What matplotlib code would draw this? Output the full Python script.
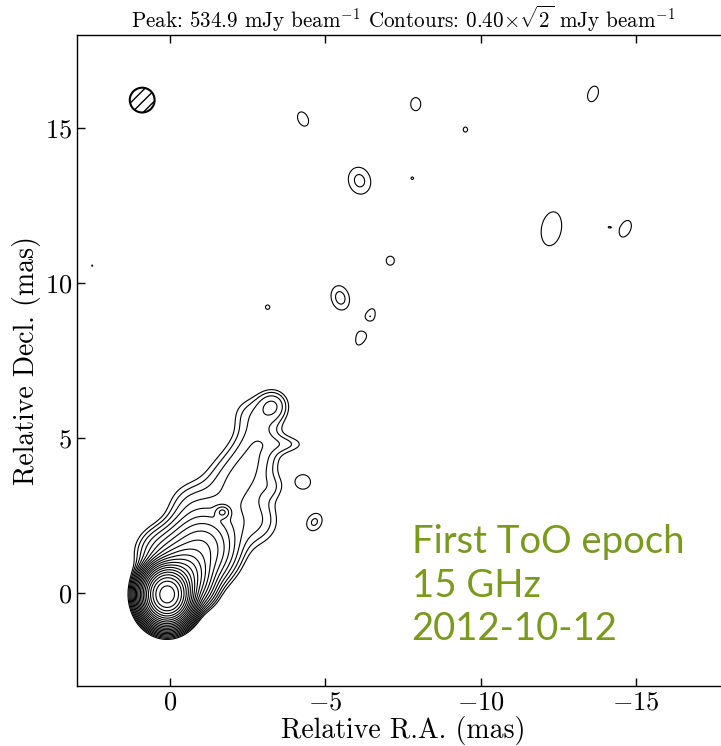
import numpy as np
import matplotlib
matplotlib.use("Agg")
import matplotlib.pyplot as plt
from matplotlib.patches import Ellipse

plt.rcParams['font.family'] = 'serif'
plt.rcParams['font.serif'] = ['cmr10']
plt.rcParams['mathtext.fontset'] = 'cm'
plt.rcParams['axes.formatter.use_mathtext'] = True
plt.rcParams['hatch.linewidth'] = 1.0

peak_flux = 534.9
lowest = 0.40
n_levels = 21

# gaussian components: ra, dec (mas), peak (mJy/beam), fwhm major, fwhm minor (mas), PA (deg)
core = [(0.1, -0.05, 522.0, 0.90, 0.78, 0)]
jet_ra = [-0.4, -0.9, -1.3, -1.69, -2.15, -0.6, -2.8, -3.3, -2.5, -3.8, -2.8, 0.3, -0.9, -3.3]
jet_dec = [0.55, 1.3, 1.9, 2.61, 3.6, 2.9, 4.9, 6.05, 5.8, 4.8, 2.3, 1.3, 0.0, 3.4]
jet_peak = [25.0, 6.0, 1.5, 2.0, 1.15, 0.5, 0.8, 1.0, 0.4, 0.45, 0.7, 1.5, 1.5, 0.3]
jet_maj = [1.0, 1.4, 1.6, 0.35, 2.0, 1.2, 1.8, 0.8, 1.0, 1.2, 1.3, 1.2, 0.8, 0.7]
jet_min = [1.0, 1.4, 1.6, 0.3, 1.5, 1.2, 1.2, 0.8, 1.0, 0.5, 1.3, 1.2, 0.8, 0.7]
jet_pa = [0, 0, 0, 90, -45, 0, -20, 0, 0, 90, 0, 0, 0, 0]

blob_ra = [-4.28, -6.10, -5.48, -6.45, -6.16, -6.30, -7.91, -9.51, -7.80, -13.62, -12.28,
           -14.13, -14.66, -7.09, 2.51, -3.14, -4.30, -4.65]
blob_dec = [15.29, 13.30, 9.52, 8.95, 8.28, 8.62, 15.77, 14.95, 13.38, 16.10, 11.75,
            11.80, 11.75, 10.72, 10.56, 9.22, 3.58, 2.29]
blob_peak = [0.45, 0.62, 0.64, 0.45, 0.50, -0.6, 0.45, 0.41, 0.403, 0.45, 0.50,
             0.35, 0.50, 0.45, 0.401, 0.41, 0.50, 0.60]
blob_maj = [1.17, 1.10, 0.97, 0.79, 1.02, 0.7, 1.02, 0.85, 0.78, 1.26, 1.94,
            0.3, 1.0, 0.70, 0.8, 0.74, 0.75, 0.76]
blob_min = [0.78, 0.89, 0.70, 0.41, 0.51, 0.3, 0.78, 0.74, 0.78, 0.78, 1.13,
            0.15, 0.6, 0.63, 0.5, 0.74, 0.75, 0.59]
blob_pa = [25, 15, 15, -23, -23, 67, 0, 0, 0, -20, -10, 90, -25, 0, 0, 0, 0, -30]

beam_ra, beam_dec, beam_size = 0.90, 15.90, 0.80


def gauss(X, Y, x0, y0, p, fmaj, fmin, pa):
    s1 = fmaj / 2.3548
    s2 = fmin / 2.3548
    t = np.deg2rad(pa)
    dx = X - x0
    dy = Y - y0
    u = dx * np.sin(t) + dy * np.cos(t)
    v = dx * np.cos(t) - dy * np.sin(t)
    return p * np.exp(-0.5 * ((u / s1) ** 2 + (v / s2) ** 2))


x = np.linspace(3, -18, 1051)
y = np.linspace(-3, 18, 1051)
X, Y = np.meshgrid(x, y)
img = np.zeros_like(X)
comps = list(core)
comps += list(zip(jet_ra, jet_dec, jet_peak, jet_maj, jet_min, jet_pa))
comps += list(zip(blob_ra, blob_dec, blob_peak, blob_maj, blob_min, blob_pa))
for c in comps:
    img += gauss(X, Y, *c)

levels = lowest * np.sqrt(2) ** np.arange(n_levels)

fig = plt.figure(figsize=(7.21, 7.46), dpi=100)
ax = fig.add_axes([77 / 721, 60 / 746, 652 / 721, 651 / 746])
ax.contour(X, Y, img, levels=levels, colors='k', linewidths=0.8)

beam = Ellipse((beam_ra, beam_dec), beam_size, beam_size, fill=False,
               hatch='///', ec='k', lw=1.5)
ax.add_patch(beam)

ax.set_xlim(3, -18)
ax.set_ylim(-3, 18)
ax.set_xticks([0, -5, -10, -15])
ax.set_yticks([0, 5, 10, 15])
ax.tick_params(direction='in', top=True, right=True, length=5.5, width=1, labelsize=19)
for s in ax.spines.values():
    s.set_linewidth(1.0)

ax.set_xlabel('Relative R.A. (mas)', fontsize=20, labelpad=1)
ax.set_ylabel('Relative Decl. (mas)', fontsize=20, labelpad=3)
ax.set_title(r'Peak: 534.9 mJy beam$^{-1}$ Contours: 0.40$\times\sqrt{2}$ mJy beam$^{-1}$',
             fontsize=15.2, pad=5)

green = '#7a9a1b'
for yy, s in zip([1.29, -0.13, -1.52], ['First ToO epoch', '15 GHz', '2012-10-12']):
    ax.text(-7.78, yy, s, color=green, fontsize=27.5, family='Lato',
            va='baseline', ha='left')

fig.savefig('out.png', dpi=100)
